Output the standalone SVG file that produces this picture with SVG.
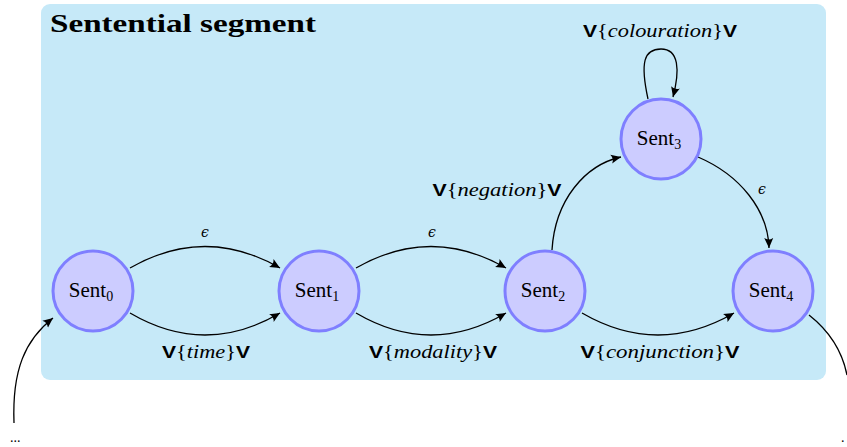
<svg xmlns="http://www.w3.org/2000/svg" width="847" height="447" viewBox="0 0 847 447">
<defs>
<marker id="arr" viewBox="-10 -5 11 10" refX="0" refY="0" markerWidth="11" markerHeight="10" markerUnits="userSpaceOnUse" orient="auto">
<path d="M0,0 L-10,-4.5 Q-7,0 -10,4.5 Z" fill="#000"/>
</marker>
</defs>
<style>
.node circle{fill:#ccccff;stroke:#7f7fff;stroke-width:3}
.node text{font-family:"Liberation Serif","DejaVu Serif",serif;font-size:21px;fill:#000;text-anchor:middle}
.sub{font-size:14px}
.edge{fill:none;stroke:#000;stroke-width:1.3;marker-end:url(#arr)}
.plain{fill:none;stroke:#000;stroke-width:1.3}
.lbl{font-family:"Liberation Serif","DejaVu Serif",serif;font-size:18px;text-anchor:middle;fill:#000}
.lbl .v{font-family:"Liberation Sans","DejaVu Sans",sans-serif;font-weight:bold;font-style:normal;font-size:17px}
.lbl .m{font-style:italic}
.eps{font-family:"DejaVu Serif","Liberation Serif",serif;font-size:14px;font-style:italic;text-anchor:middle}
</style>
<rect x="41" y="4" width="785" height="376" rx="9" fill="#c6e9f8"/>
<text x="50" y="32" font-family="Liberation Serif,DejaVu Serif,serif" font-weight="bold" font-size="25" textLength="266" lengthAdjust="spacingAndGlyphs">Sentential segment</text>
<g id="connectors">
<path class="edge" d="M130 268 Q205 225 280 268"/>
<path class="edge" d="M130 313 Q205 357 280 313"/>
<path class="edge" d="M356 268 Q431 225 506 268"/>
<path class="edge" d="M356 313 Q431 357 506 313"/>
<path class="edge" d="M582 313 Q658 357 734 313"/>
<path class="edge" d="M552 250 C555 200 585 165 621 157"/>
<path class="edge" d="M698 157 C740 175 768 210 769 248"/>
<path class="edge" d="M648 99 C640 62 644 49 661 49 C679 49 680 70 673 97"/>
<path class="edge" d="M14 423 C12 370 25 340 53 318"/>
<path class="plain" d="M809 315 C828 330 842 350 847 375"/>
<text class="eps" x="205" y="237">ϵ</text>
<text class="eps" x="432" y="237">ϵ</text>
<text class="eps" x="762" y="194">ϵ</text>
<text class="lbl" x="206" y="358" textLength="88" lengthAdjust="spacingAndGlyphs"><tspan class="v">V</tspan>{<tspan class="m">time</tspan>}<tspan class="v">V</tspan></text>
<text class="lbl" x="433" y="358" textLength="128" lengthAdjust="spacingAndGlyphs"><tspan class="v">V</tspan>{<tspan class="m">modality</tspan>}<tspan class="v">V</tspan></text>
<text class="lbl" x="660" y="358" textLength="159" lengthAdjust="spacingAndGlyphs"><tspan class="v">V</tspan>{<tspan class="m">conjunction</tspan>}<tspan class="v">V</tspan></text>
<text class="lbl" x="497" y="196" textLength="129" lengthAdjust="spacingAndGlyphs"><tspan class="v">V</tspan>{<tspan class="m">negation</tspan>}<tspan class="v">V</tspan></text>
<text class="lbl" x="660" y="37" textLength="154" lengthAdjust="spacingAndGlyphs"><tspan class="v">V</tspan>{<tspan class="m">colouration</tspan>}<tspan class="v">V</tspan></text>
<text x="10" y="442" font-family="Liberation Serif,serif" font-size="14">...</text>
<text x="841" y="442" font-family="Liberation Serif,serif" font-size="14">.</text>
</g>
<g id="sent0" class="node"><circle cx="93" cy="291" r="40"/><text x="91" y="297">Sent<tspan class="sub" dy="4">0</tspan></text></g>
<g id="sent1" class="node"><circle cx="319" cy="291" r="40"/><text x="317" y="297">Sent<tspan class="sub" dy="4">1</tspan></text></g>
<g id="sent2" class="node"><circle cx="545" cy="291" r="40"/><text x="543" y="297">Sent<tspan class="sub" dy="4">2</tspan></text></g>
<g id="sent3" class="node"><circle cx="661" cy="139" r="40"/><text x="659" y="145">Sent<tspan class="sub" dy="4">3</tspan></text></g>
<g id="sent4" class="node"><circle cx="773" cy="291" r="40"/><text x="771" y="297">Sent<tspan class="sub" dy="4">4</tspan></text></g>
</svg>
